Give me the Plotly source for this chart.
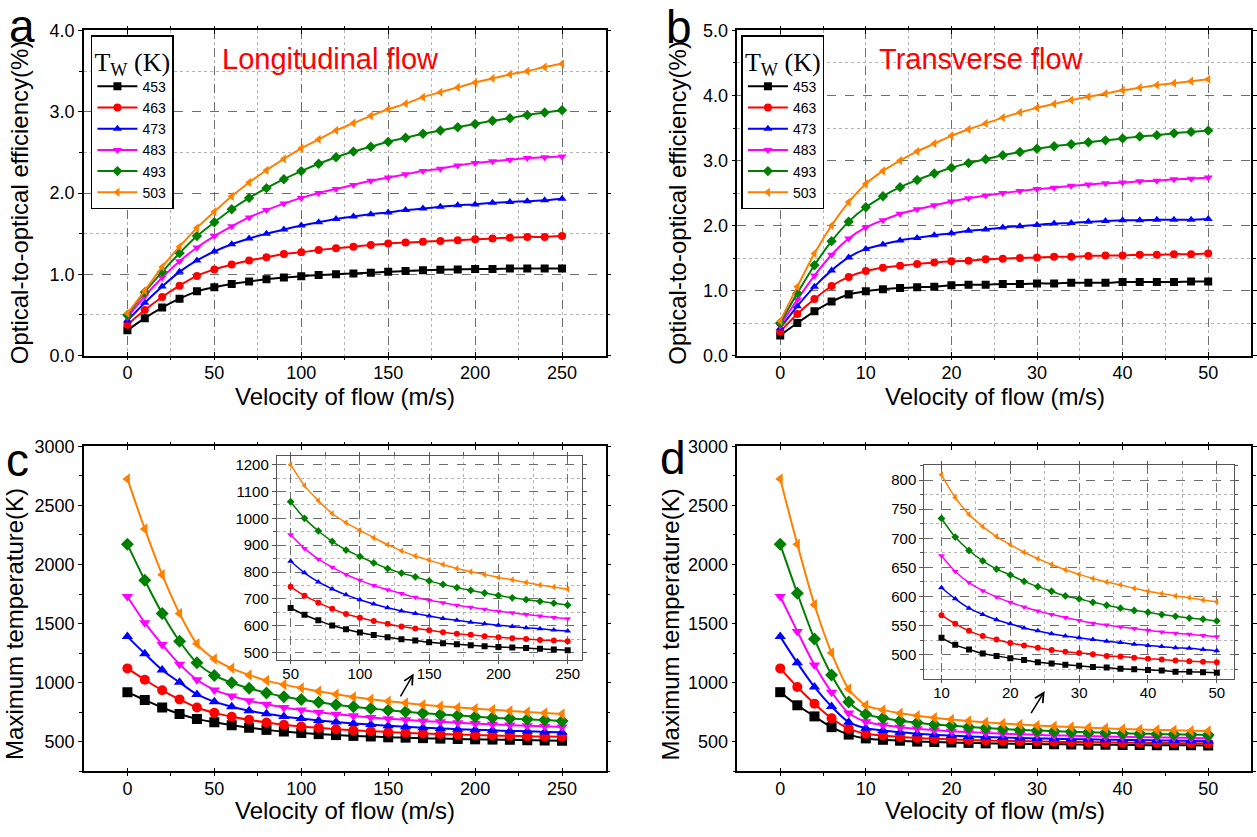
import plotly.graph_objects as go

# ---------------- data ----------------
temps = ['453', '463', '473', '483', '493', '503']
colors = ['#000000', '#FF0000', '#0000FF', '#FF00FF', '#008000', '#FF8000']
symbols = ['square', 'circle', 'triangle-up', 'triangle-down', 'diamond', 'triangle-left']

vel_long = [0, 10, 20, 30, 40, 50, 60, 70, 80, 90, 100, 110, 120, 130, 140, 150,
            160, 170, 180, 190, 200, 210, 220, 230, 240, 250]
vel_trans = [0, 2, 4, 6, 8, 10, 12, 14, 16, 18, 20, 22, 24, 26, 28, 30,
             32, 34, 36, 38, 40, 42, 44, 46, 48, 50]

# (a) optical-to-optical efficiency, longitudinal flow (%)
eff_long_453 = [0.31, 0.46, 0.59, 0.70, 0.79, 0.84, 0.88, 0.91, 0.94, 0.96, 0.975, 0.99, 1.00,
                1.01, 1.02, 1.03, 1.04, 1.05, 1.055, 1.06, 1.065, 1.065, 1.07, 1.07, 1.07, 1.07]
eff_long_463 = [0.38, 0.56, 0.72, 0.86, 0.98, 1.06, 1.12, 1.17, 1.21, 1.25, 1.27, 1.30, 1.32,
                1.34, 1.36, 1.38, 1.39, 1.40, 1.41, 1.42, 1.43, 1.44, 1.45, 1.46, 1.46, 1.47]
eff_long_473 = [0.43, 0.65, 0.85, 1.03, 1.17, 1.28, 1.37, 1.44, 1.50, 1.55, 1.60, 1.64, 1.68,
                1.71, 1.74, 1.76, 1.79, 1.81, 1.83, 1.85, 1.86, 1.88, 1.89, 1.90, 1.91, 1.93]
eff_long_483 = [0.47, 0.73, 0.96, 1.16, 1.33, 1.47, 1.59, 1.70, 1.79, 1.87, 1.94, 2.00, 2.05,
                2.10, 2.15, 2.19, 2.23, 2.27, 2.30, 2.34, 2.37, 2.39, 2.41, 2.43, 2.44, 2.45]
eff_long_493 = [0.50, 0.78, 1.03, 1.26, 1.47, 1.64, 1.80, 1.94, 2.06, 2.17, 2.27, 2.36, 2.44,
                2.51, 2.57, 2.63, 2.68, 2.73, 2.77, 2.81, 2.85, 2.89, 2.92, 2.96, 2.99, 3.02]
eff_long_503 = [0.52, 0.80, 1.09, 1.34, 1.57, 1.77, 1.96, 2.13, 2.28, 2.42, 2.55, 2.66, 2.77,
                2.86, 2.95, 3.03, 3.10, 3.18, 3.24, 3.30, 3.36, 3.41, 3.46, 3.50, 3.55, 3.59]

# (b) optical-to-optical efficiency, transverse flow (%)
eff_trans_453 = [0.31, 0.50, 0.68, 0.83, 0.94, 0.99, 1.02, 1.04, 1.05, 1.06, 1.08, 1.09, 1.09,
                 1.10, 1.10, 1.11, 1.11, 1.12, 1.12, 1.12, 1.13, 1.13, 1.13, 1.13, 1.14, 1.14]
eff_trans_463 = [0.37, 0.64, 0.87, 1.07, 1.21, 1.30, 1.35, 1.38, 1.41, 1.43, 1.45, 1.46, 1.48,
                 1.49, 1.50, 1.51, 1.52, 1.52, 1.53, 1.54, 1.54, 1.55, 1.55, 1.56, 1.56, 1.57]
eff_trans_473 = [0.42, 0.76, 1.06, 1.31, 1.51, 1.64, 1.71, 1.77, 1.81, 1.85, 1.88, 1.92, 1.94,
                 1.97, 1.99, 2.01, 2.03, 2.04, 2.06, 2.07, 2.08, 2.08, 2.09, 2.09, 2.09, 2.10]
eff_trans_483 = [0.46, 0.86, 1.23, 1.55, 1.80, 1.97, 2.08, 2.18, 2.25, 2.31, 2.37, 2.42, 2.46,
                 2.50, 2.53, 2.56, 2.58, 2.61, 2.63, 2.65, 2.66, 2.68, 2.69, 2.71, 2.72, 2.74]
eff_trans_493 = [0.50, 0.96, 1.39, 1.76, 2.06, 2.28, 2.45, 2.59, 2.70, 2.80, 2.89, 2.96, 3.02,
                 3.08, 3.13, 3.18, 3.22, 3.25, 3.28, 3.31, 3.34, 3.37, 3.39, 3.42, 3.44, 3.46]
eff_trans_503 = [0.53, 1.06, 1.57, 2.00, 2.36, 2.64, 2.84, 3.00, 3.14, 3.26, 3.38, 3.48, 3.57,
                 3.66, 3.74, 3.81, 3.87, 3.93, 3.98, 4.03, 4.08, 4.12, 4.16, 4.19, 4.22, 4.25]

# (c) maximum temperature, longitudinal flow (K)
tmax_long_453 = [920, 854, 790, 735, 694, 666, 641, 620, 601, 587, 575, 565, 557,
                 550, 545, 538, 535, 531, 527, 524, 521, 519, 517, 514, 511, 509]
tmax_long_463 = [1121, 1025, 936, 859, 790, 745, 712, 686, 663, 644, 630, 618, 607,
                 597, 590, 583, 576, 570, 566, 561, 557, 553, 551, 547, 545, 542]
tmax_long_473 = [1390, 1246, 1108, 1003, 901, 840, 797, 763, 737, 715, 697, 681, 667,
                 655, 646, 636, 627, 620, 613, 607, 602, 597, 592, 589, 584, 580]
tmax_long_483 = [1729, 1508, 1323, 1157, 1025, 939, 888, 848, 818, 791, 769, 750, 734,
                 720, 706, 695, 686, 676, 669, 661, 654, 648, 642, 636, 631, 626]
tmax_long_493 = [2171, 1867, 1586, 1351, 1168, 1062, 1000, 953, 914, 882, 858, 834, 813,
                 796, 782, 767, 754, 742, 732, 722, 713, 704, 697, 691, 684, 677]
tmax_long_503 = [2724, 2301, 1914, 1586, 1329, 1200, 1122, 1066, 1018, 984, 955, 928, 902,
                 879, 860, 844, 828, 813, 801, 791, 780, 771, 761, 752, 744, 736]

# (d) maximum temperature, transverse flow (K)
tmax_trans_453 = [920, 809, 715, 624, 561, 529, 517, 509, 502, 498, 494, 491, 487,
                  485, 483, 481, 479, 478, 476, 475, 474, 473, 471, 471, 470, 469]
tmax_trans_463 = [1121, 964, 823, 699, 611, 568, 553, 541, 532, 526, 520, 516, 512,
                  508, 505, 503, 501, 498, 497, 495, 493, 492, 490, 489, 488, 487]
tmax_trans_473 = [1390, 1168, 964, 798, 666, 615, 596, 580, 569, 560, 553, 546, 541,
                  536, 532, 529, 526, 523, 521, 518, 516, 514, 512, 511, 509, 507]
tmax_trans_483 = [1729, 1434, 1149, 920, 743, 670, 643, 624, 610, 599, 590, 582, 575,
                  569, 564, 559, 554, 551, 548, 545, 542, 539, 537, 535, 533, 531]
tmax_trans_493 = [2171, 1757, 1370, 1066, 837, 734, 702, 679, 661, 647, 637, 626, 617,
                  609, 601, 596, 590, 585, 580, 576, 573, 569, 566, 563, 561, 558]
tmax_trans_503 = [2724, 2171, 1660, 1251, 947, 809, 770, 741, 720, 703, 689, 676, 665,
                  655, 646, 638, 631, 625, 620, 614, 609, 605, 601, 598, 594, 591]

eff_long = [eff_long_453, eff_long_463, eff_long_473, eff_long_483, eff_long_493, eff_long_503]
eff_trans = [eff_trans_453, eff_trans_463, eff_trans_473, eff_trans_483, eff_trans_493, eff_trans_503]
tmax_long = [tmax_long_453, tmax_long_463, tmax_long_473, tmax_long_483, tmax_long_493, tmax_long_503]
tmax_trans = [tmax_trans_453, tmax_trans_463, tmax_trans_473, tmax_trans_483, tmax_trans_493, tmax_trans_503]

INSET_START = 5  # inset panels start at 50 m/s (c) and 10 m/s (d)

# ---------------- figure ----------------
W, H = 1257, 837
FONT = 'Liberation Sans, Arial, sans-serif'


def px(x):
    return x / W


def py(y):
    return 1 - y / H


fig = go.Figure()


def add_series(xs, ys_list, xa, ya, msize, lw, legend=None):
    for i, t in enumerate(temps):
        fig.add_trace(go.Scatter(
            x=xs, y=ys_list[i], name=t, mode='lines+markers',
            xaxis=xa, yaxis=ya,
            line=dict(color=colors[i], width=lw, shape='spline', smoothing=0.8),
            marker=dict(symbol=symbols[i], size=msize, color=colors[i], line=dict(width=0)),
            showlegend=legend is not None,
            legend=legend if legend else 'legend',
        ))


add_series(vel_long, eff_long, 'x', 'y', 8, 2, 'legend')
add_series(vel_trans, eff_trans, 'x2', 'y2', 8, 2, 'legend2')
add_series(vel_long, tmax_long, 'x3', 'y3', 10, 2)
add_series(vel_trans, tmax_trans, 'x4', 'y4', 10, 2)
add_series(vel_long[INSET_START:], [s[INSET_START:] for s in tmax_long], 'x5', 'y5', 6, 1.5)
add_series(vel_trans[INSET_START:], [s[INSET_START:] for s in tmax_trans], 'x6', 'y6', 6, 1.5)


def axis(domain, rng, dtick, mdtick, grid, is_x, tsize=18, lw=1.5, lcolor='black', fmt=None, anchor=None):
    d = dict(domain=domain, range=rng, dtick=dtick, tick0=0,
             showline=True, linecolor=lcolor, linewidth=lw, mirror='allticks',
             ticks='inside' if is_x else 'outside', ticklen=4, tickwidth=1.2, tickcolor=lcolor,
             tickfont=dict(size=tsize, color='black', family=FONT),
             zeroline=False, anchor=anchor,
             minor=dict(dtick=mdtick, tick0=0, ticks='outside', ticklen=3, tickcolor=lcolor,
                        showgrid=grid, gridcolor='#b4b4b4', griddash='dot', gridwidth=1))
    if grid:
        d.update(showgrid=True, gridcolor='#6e6e6e', griddash='dash', gridwidth=1)
    else:
        d.update(showgrid=False)
    if fmt:
        d['tickformat'] = fmt
    return d


xa_dom = [px(84), px(606)]
xb_dom = [px(738), px(1252)]
ytop_dom = [py(354), py(21)]
ybot_dom = [py(780), py(447)]
IN_C = '#555555'

fig.update_layout(
    width=W, height=H,
    margin=dict(l=0, r=0, t=0, b=0),
    paper_bgcolor='white', plot_bgcolor='white',
    font=dict(family=FONT, color='black'),
    xaxis=axis(xa_dom, [-25, 275], 50, 25, True, True, anchor='y'),
    yaxis=axis(ytop_dom, [0, 4], 1, 0.5, True, False, fmt='.1f', anchor='x'),
    xaxis2=axis(xb_dom, [-5, 55], 10, 5, True, True, anchor='y2'),
    yaxis2=axis(ytop_dom, [0, 5], 1, 0.5, True, False, fmt='.1f', anchor='x2'),
    xaxis3=axis(xa_dom, [-25, 275], 50, 25, False, True, anchor='y3'),
    yaxis3=axis(ybot_dom, [250, 3000], 500, 250, False, False, anchor='x3'),
    xaxis4=axis(xb_dom, [-5, 55], 10, 5, False, True, anchor='y4'),
    yaxis4=axis(ybot_dom, [250, 3000], 500, 250, False, False, anchor='x4'),
    xaxis5=axis([px(277), px(582)], [40, 260], 50, 25, True, True, tsize=15, lw=1, lcolor=IN_C, anchor='y5'),
    yaxis5=axis([py(666), py(457)], [472, 1232], 100, 50, True, False, tsize=15, lw=1, lcolor=IN_C, anchor='x5'),
    xaxis6=axis([px(925), px(1235)], [7.5, 52.5], 10, 5, True, True, tsize=15, lw=1, lcolor=IN_C, anchor='y6'),
    yaxis6=axis([py(685), py(466)], [459, 826], 50, 25, True, False, tsize=15, lw=1, lcolor=IN_C, anchor='x6'),
)

legend_common = dict(
    bgcolor='white', bordercolor='black', borderwidth=1.5,
    font=dict(size=14, color='black', family=FONT),
    title=dict(text='T<sub>W</sub> (K)', side='top',
               font=dict(size=26, family='Liberation Serif, Times New Roman, serif', color='black')),
    xanchor='left', yanchor='top', itemwidth=40, tracegroupgap=0,
)
fig.update_layout(
    legend=dict(x=px(91), y=py(26), **legend_common),
    legend2=dict(x=px(742), y=py(26), **legend_common),
)

annotations = []


def text(xp, yp, s, size, color='black', angle=0):
    annotations.append(dict(x=px(xp), y=py(yp), xref='paper', yref='paper', text=s,
                            showarrow=False, textangle=angle, xanchor='center', yanchor='middle',
                            font=dict(size=size, color=color, family=FONT)))


# panel letters
text(22, 16, 'a', 46)
text(680, 17, 'b', 46)
text(18, 461, 'c', 46)
text(674, 459, 'd', 46)
# flow labels
text(331, 50, 'Longitudinal flow', 29, '#FF0000')
text(982, 50, 'Transverse flow', 29, '#FF0000')
# axis titles
text(345, 396, 'Velocity of flow (m/s)', 24)
text(996, 396, 'Velocity of flow (m/s)', 24)
text(345, 820, 'Velocity of flow (m/s)', 24)
text(996, 820, 'Velocity of flow (m/s)', 24)
text(19, 197, 'Optical-to-optical efficiency(%)', 24, angle=-90)
text(678, 197, 'Optical-to-optical efficiency(%)', 24, angle=-90)
text(15, 629, 'Maximum temperature(K)', 24, angle=-90)
text(672, 629, 'Maximum temperature(K)', 24, angle=-90)

# arrows pointing to insets
annotations.append(dict(x=164.7, y=1078, xref='x3', yref='y3', ax=156.6, ay=871, axref='x3', ayref='y3',
                        showarrow=True, arrowhead=5, arrowsize=1.2, arrowwidth=1.5, arrowcolor='black', text=''))
annotations.append(dict(x=30.9, y=929, xref='x4', yref='y4', ax=29.2, ay=730, axref='x4', ayref='y4',
                        showarrow=True, arrowhead=5, arrowsize=1.2, arrowwidth=1.5, arrowcolor='black', text=''))

fig.update_layout(annotations=annotations)

fig.write_html('out.html',
               config={'displayModeBar': False},
               post_script="document.body.style.margin='0';document.body.style.padding='0';"
                           "document.body.style.overflow='hidden';")
